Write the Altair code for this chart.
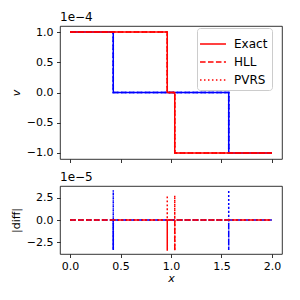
import altair as alt
import pandas as pd

# ---- data ----
methods = ["Exact", "HLL", "PVRS"]

# top panel: v profiles (red = inner waves, blue = outer waves)
x_red = [0.0, 0.963, 0.963, 1.037, 1.037, 2.0]
v_red = [1e-4, 1e-4, 0.0, 0.0, -1e-4, -1e-4]
x_blue = [0.0, 0.428, 0.428, 1.572, 1.572, 2.0]
v_blue = [1e-4, 1e-4, 0.0, 0.0, -1e-4, -1e-4]

# bottom panel: differences
xd_red = [0.0, 0.963, 0.963, 0.963, 1.037, 1.037, 1.037, 2.0]
d_red_hll = [0.0, 0.0, -3.45e-5, 0.0, 0.0, -3.45e-5, 0.0, 0.0]
xd_red_p = [0.0, 0.963, 0.963, 0.963, 1.037, 1.037, 1.037, 1.037, 2.0]
d_red_pvrs = [0.0, 0.0, 2.75e-5, 0.0, 0.0, 2.75e-5, -3.45e-5, 0.0, 0.0]
xd_blue = [0.0, 0.428, 0.428, 0.428, 1.572, 1.572, 1.572, 2.0]
d_blue_hll = [0.0, 0.0, -3.35e-5, 0.0, 0.0, -3.35e-5, 0.0, 0.0]
xd_blue_p = [0.0, 0.428, 0.428, 0.428, 0.428, 1.572, 1.572, 1.572, 2.0]
d_blue_pvrs = [0.0, 0.0, 3.35e-5, -3.35e-5, 0.0, 0.0, 3.35e-5, 0.0, 0.0]

x_ticks = [0.0, 0.5, 1.0, 1.5, 2.0]
v_ticks = [-1e-4, -0.5e-4, 0.0, 0.5e-4, 1e-4]
d_ticks = [-2.5e-5, 0.0, 2.5e-5]

DASH = {"Exact": [1, 0], "HLL": [5.55, 2.4], "PVRS": [1.5, 2.475]}
FONT = "DejaVu Sans"
FS = 11

def profile_df(xs, vs, state):
    rows = []
    for m in methods:
        for x, v in zip(xs, vs):
            rows.append({"x": x, "v": v, "method": m, "state": state})
    return pd.DataFrame(rows)

top_blue = profile_df(x_blue, v_blue, "outer")
top_red = profile_df(x_red, v_red, "inner")

xscale = alt.Scale(domain=[-0.1, 2.1], nice=False, zero=False)
vscale = alt.Scale(domain=[-1.1e-4, 1.1e-4], nice=False, zero=False)
dscale = alt.Scale(domain=[-3.8e-5, 3.8e-5], nice=False, zero=False)
dash_scale = alt.Scale(domain=methods, range=[DASH[m] for m in methods])
color_scale = alt.Scale(domain=["outer", "inner"], range=["blue", "red"])

def top_layer(df):
    return alt.Chart(df).mark_line(strokeWidth=1.5).encode(
        x=alt.X("x:Q", scale=xscale,
                axis=alt.Axis(values=x_ticks, labels=False, title=None)),
        y=alt.Y("v:Q", scale=vscale,
                axis=alt.Axis(values=v_ticks, title="v", titleFontStyle="italic",
                              labelExpr="format(datum.value*1e4, '.1f')")),
        color=alt.Color("state:N", scale=color_scale, legend=None),
        strokeDash=alt.StrokeDash(
            "method:N", scale=dash_scale,
            legend=alt.Legend(
                title=None, orient="none", legendX=137, legendY=2,
                symbolType="M-1.16,0L1.16,0", symbolSize=500, symbolStrokeWidth=1.5,
                symbolStrokeColor="red", symbolFillColor="transparent",
                labelFontSize=12, labelFont=FONT,
                labelColor="black", labelOffset=9, padding=4, rowPadding=0,
                fillColor="rgba(255,255,255,0.8)", strokeColor="#cccccc",
                cornerRadius=3)),
        detail="method:N",
        order=alt.value(0),
    )

def offset_title(txt):
    return alt.TitleParams(txt, anchor="start", frame="group", fontSize=12,
                           fontWeight="normal", font=FONT, color="black", offset=2)

top = alt.layer(top_layer(top_blue), top_layer(top_red)).properties(
    width=222, height=133, title=offset_title("1e\u22124"),
)

def diff_layer(xs, ds, color, dash):
    df = pd.DataFrame({"x": xs, "d": ds, "i": list(range(len(xs)))})
    return alt.Chart(df).mark_line(strokeWidth=1.5, color=color, strokeDash=dash).encode(
        x=alt.X("x:Q", scale=xscale,
                axis=alt.Axis(values=x_ticks, format=".1f", title="x",
                              titleFontStyle="italic", titlePadding=1,
                              labelPadding=2.5)),
        y=alt.Y("d:Q", scale=dscale,
                axis=alt.Axis(values=d_ticks, title="|diff|",
                              labelExpr="format(datum.value*1e5, '.1f')")),
        order="i:Q",
    )

bottom = alt.layer(
    diff_layer(xd_blue, d_blue_hll, "blue", DASH["HLL"]),
    diff_layer(xd_blue_p, d_blue_pvrs, "blue", DASH["PVRS"]),
    diff_layer(xd_red, d_red_hll, "red", DASH["HLL"]),
    diff_layer(xd_red_p, d_red_pvrs, "red", DASH["PVRS"]),
).properties(
    width=222, height=68, title=offset_title("1e\u22125"),
)

chart = alt.vconcat(top, bottom, spacing=6).resolve_legend(
    strokeDash="independent"
).configure(
    font=FONT, padding={"left": 1, "top": 2, "right": 5, "bottom": 5}
).configure_view(
    stroke="black", strokeWidth=0.8
).configure_axis(
    domain=False, grid=False, tickColor="black", tickWidth=0.8, tickSize=3.5,
    labelFontSize=FS, labelFont=FONT, labelColor="black", labelPadding=3.5,
    titleFontSize=FS, titleFont=FONT, titleFontWeight="normal", titleColor="black",
    titlePadding=5,
)

chart.save("out.html", embed_options={"renderer": "svg", "actions": False})
